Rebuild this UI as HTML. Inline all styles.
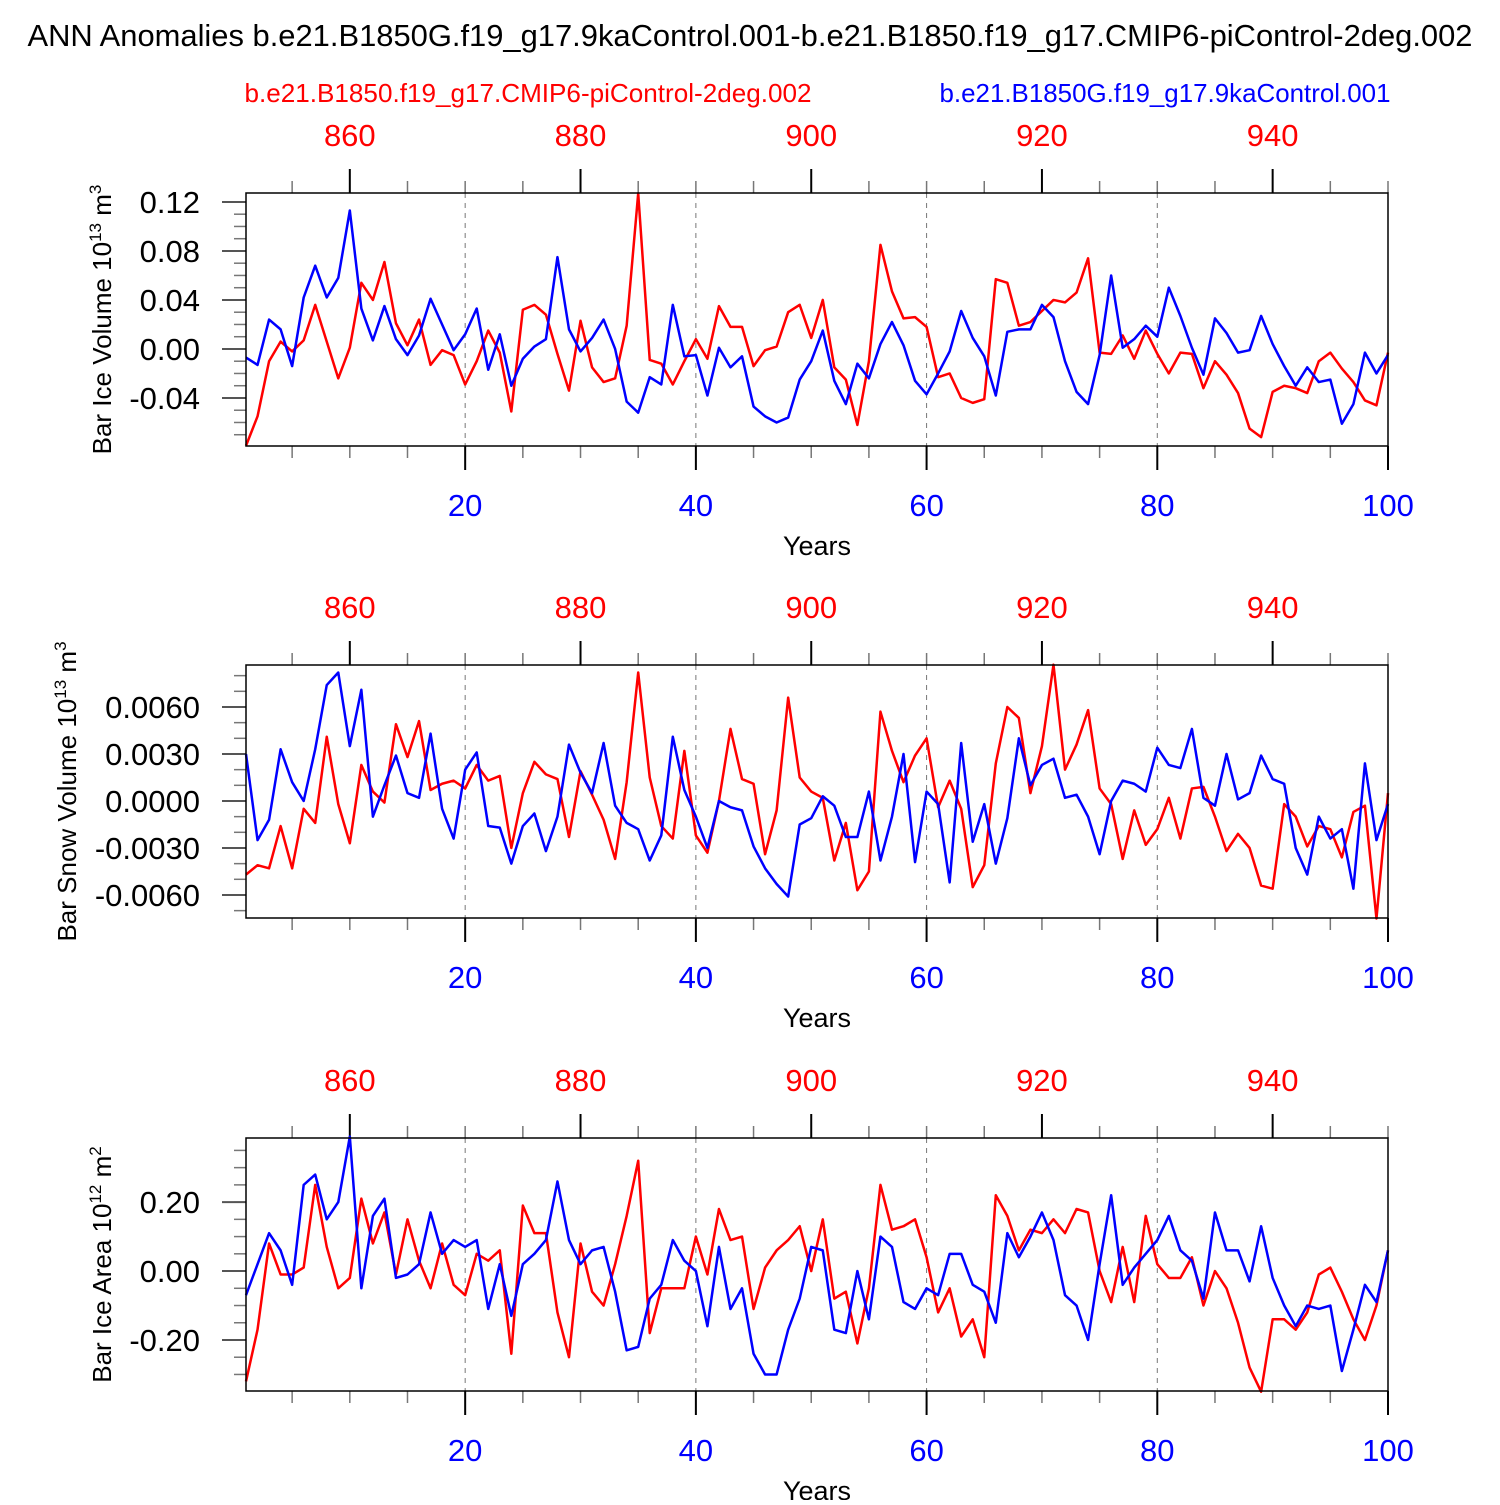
<!DOCTYPE html>
<html><head><meta charset="utf-8"><style>
body{margin:0;background:#fff}
svg text{font-family:"Liberation Sans",Arial,sans-serif}
</style></head><body>
<svg id="chart" xmlns="http://www.w3.org/2000/svg" width="1500" height="1500" viewBox="0 0 1500 1500">
<text x="750" y="46" text-anchor="middle" font-size="31" textLength="1445" lengthAdjust="spacingAndGlyphs">ANN Anomalies b.e21.B1850G.f19_g17.9kaControl.001-b.e21.B1850.f19_g17.CMIP6-piControl-2deg.002</text>
<text x="528" y="102" text-anchor="middle" font-size="26" fill="#f00" textLength="567" lengthAdjust="spacingAndGlyphs">b.e21.B1850.f19_g17.CMIP6-piControl-2deg.002</text>
<text x="1165" y="102" text-anchor="middle" font-size="26" fill="#00f" textLength="451" lengthAdjust="spacingAndGlyphs">b.e21.B1850G.f19_g17.9kaControl.001</text>
</svg>
<script>
const years=Array.from({length:100},(_,i)=>i+1);
const iceVolBlue=[-0.007,-0.013,0.024,0.016,-0.014,0.042,0.068,0.042,0.058,0.113,0.033,0.007,0.035,0.008,-0.005,0.011,0.041,0.020,-0.001,0.012,0.033,-0.017,0.012,-0.030,-0.008,0.002,0.008,0.075,0.016,-0.002,0.009,0.024,0.000,-0.043,-0.052,-0.023,-0.029,0.036,-0.006,-0.005,-0.038,0.001,-0.015,-0.006,-0.047,-0.055,-0.060,-0.056,-0.025,-0.010,0.015,-0.026,-0.045,-0.012,-0.024,0.004,0.022,0.003,-0.026,-0.037,-0.020,-0.002,0.031,0.009,-0.006,-0.038,0.014,0.016,0.016,0.036,0.026,-0.010,-0.035,-0.045,-0.005,0.060,0.001,0.008,0.019,0.010,0.050,0.027,0.001,-0.021,0.025,0.013,-0.003,-0.001,0.027,0.004,-0.014,-0.030,-0.015,-0.027,-0.025,-0.061,-0.045,-0.003,-0.020,-0.005];
const iceVolRed=[-0.079,-0.055,-0.010,0.006,-0.002,0.007,0.036,0.006,-0.024,0.001,0.054,0.040,0.071,0.021,0.003,0.024,-0.013,-0.001,-0.005,-0.029,-0.010,0.015,-0.003,-0.051,0.032,0.036,0.028,-0.004,-0.034,0.023,-0.015,-0.027,-0.024,0.019,0.127,-0.009,-0.012,-0.029,-0.010,0.008,-0.008,0.035,0.018,0.018,-0.014,-0.001,0.002,0.030,0.036,0.009,0.040,-0.015,-0.025,-0.062,-0.010,0.085,0.047,0.025,0.026,0.018,-0.023,-0.020,-0.040,-0.044,-0.041,0.057,0.054,0.019,0.022,0.031,0.040,0.038,0.046,0.074,-0.003,-0.004,0.011,-0.008,0.015,-0.004,-0.020,-0.003,-0.004,-0.032,-0.010,-0.021,-0.036,-0.065,-0.072,-0.035,-0.030,-0.032,-0.036,-0.010,-0.003,-0.016,-0.027,-0.042,-0.046,-0.003];
const snowBlue=[0.0030,-0.0025,-0.0012,0.0033,0.0012,0.0000,0.0033,0.0074,0.0082,0.0035,0.0071,-0.0010,0.0010,0.0029,0.0005,0.0002,0.0043,-0.0005,-0.0024,0.0020,0.0031,-0.0016,-0.0017,-0.0040,-0.0016,-0.0008,-0.0032,-0.0010,0.0036,0.0018,0.0005,0.0037,-0.0003,-0.0014,-0.0018,-0.0038,-0.0022,0.0041,0.0007,-0.0010,-0.0030,0.0000,-0.0004,-0.0006,-0.0029,-0.0043,-0.0053,-0.0061,-0.0015,-0.0011,0.0003,-0.0003,-0.0023,-0.0023,0.0006,-0.0038,-0.0010,0.0030,-0.0039,0.0006,-0.0002,-0.0052,0.0037,-0.0026,-0.0002,-0.0040,-0.0011,0.0040,0.0010,0.0023,0.0027,0.0002,0.0004,-0.0010,-0.0034,0.0000,0.0013,0.0011,0.0006,0.0034,0.0023,0.0021,0.0046,0.0002,-0.0003,0.0030,0.0001,0.0005,0.0029,0.0014,0.0011,-0.0030,-0.0047,-0.0010,-0.0024,-0.0018,-0.0056,0.0024,-0.0025,-0.0002];
const snowRed=[-0.0047,-0.0041,-0.0043,-0.0016,-0.0043,-0.0005,-0.0014,0.0041,-0.0002,-0.0027,0.0023,0.0006,-0.0001,0.0049,0.0028,0.0051,0.0007,0.0011,0.0013,0.0008,0.0023,0.0013,0.0016,-0.0030,0.0005,0.0025,0.0017,0.0014,-0.0023,0.0019,0.0004,-0.0012,-0.0037,0.0012,0.0082,0.0015,-0.0016,-0.0024,0.0032,-0.0022,-0.0033,0.0000,0.0046,0.0014,0.0011,-0.0034,-0.0006,0.0066,0.0015,0.0006,0.0002,-0.0038,-0.0014,-0.0057,-0.0045,0.0057,0.0032,0.0012,0.0029,0.0040,-0.0004,0.0013,-0.0005,-0.0055,-0.0041,0.0024,0.0060,0.0053,0.0005,0.0035,0.0087,0.0020,0.0036,0.0058,0.0008,-0.0002,-0.0037,-0.0006,-0.0028,-0.0018,0.0002,-0.0024,0.0008,0.0009,-0.0010,-0.0032,-0.0021,-0.0030,-0.0054,-0.0056,-0.0002,-0.0010,-0.0029,-0.0016,-0.0018,-0.0036,-0.0007,-0.0003,-0.0075,0.0005];
const areaBlue=[-0.07,0.02,0.11,0.06,-0.04,0.25,0.28,0.15,0.20,0.39,-0.05,0.16,0.21,-0.02,-0.01,0.02,0.17,0.05,0.09,0.07,0.09,-0.11,0.02,-0.13,0.02,0.05,0.09,0.26,0.09,0.02,0.06,0.07,-0.06,-0.23,-0.22,-0.08,-0.04,0.09,0.03,0.00,-0.16,0.07,-0.11,-0.05,-0.24,-0.30,-0.30,-0.17,-0.08,0.07,0.06,-0.17,-0.18,0.00,-0.14,0.10,0.07,-0.09,-0.11,-0.05,-0.07,0.05,0.05,-0.04,-0.06,-0.15,0.11,0.04,0.10,0.17,0.09,-0.07,-0.10,-0.20,0.02,0.22,-0.04,0.01,0.05,0.09,0.16,0.06,0.03,-0.08,0.17,0.06,0.06,-0.03,0.13,-0.02,-0.10,-0.16,-0.10,-0.11,-0.10,-0.29,-0.17,-0.04,-0.09,0.06];
const areaRed=[-0.32,-0.17,0.08,-0.01,-0.01,0.01,0.25,0.07,-0.05,-0.02,0.21,0.08,0.17,-0.01,0.15,0.03,-0.05,0.08,-0.04,-0.07,0.05,0.03,0.06,-0.24,0.19,0.11,0.11,-0.12,-0.25,0.08,-0.06,-0.10,0.02,0.16,0.32,-0.18,-0.05,-0.05,-0.05,0.10,-0.01,0.18,0.09,0.10,-0.11,0.01,0.06,0.09,0.13,0.00,0.15,-0.08,-0.06,-0.21,-0.05,0.25,0.12,0.13,0.15,0.04,-0.12,-0.05,-0.19,-0.14,-0.25,0.22,0.16,0.06,0.12,0.11,0.15,0.11,0.18,0.17,0.00,-0.09,0.07,-0.09,0.16,0.02,-0.02,-0.02,0.04,-0.10,0.00,-0.05,-0.15,-0.28,-0.35,-0.14,-0.14,-0.17,-0.12,-0.01,0.01,-0.06,-0.14,-0.20,-0.10,0.06];
const bottomTicks=[20,40,60,80,100];
const topTicks=[860,880,900,920,940];
const iceVolTicks=["0.12","0.08","0.04","0.00","-0.04"];
const snowTicks=["0.0060","0.0030","0.0000","-0.0030","-0.0060"];
const areaTicks=["0.20","0.00","-0.20"];

const NS="http://www.w3.org/2000/svg";
const svg=document.getElementById('chart');
function mk(tag,attrs,parent,text){const e=document.createElementNS(NS,tag);for(const k in attrs)e.setAttribute(k,attrs[k]);if(text!==undefined)e.textContent=text;(parent||svg).appendChild(e);return e;}
const X0=246,X1=1388;
function xs(yr){return X0+(yr-1)*(X1-X0)/99;}

function panel(o){
  const g=mk('g',{});
  
  
  const T=o.top,B=o.top+253;
  const ys=v=>B-(v-o.min)/(o.max-o.min)*(B-T);
  for(const t of [20,40,60,80]){
    const l=mk('line',{x1:xs(t),x2:xs(t),y1:T,y2:B,stroke:'#777','stroke-width':1,'stroke-dasharray':'5,5'},g);
    
    
  }
  for(let yr=5;yr<=100;yr+=5){
    const maj=yr%20===0;
    mk('line',{x1:xs(yr),x2:xs(yr),y1:B,y2:B+(maj?24:12),stroke:maj?'#000':'#777','stroke-width':maj?2:1.5},g);
  }
  for(let yr=5;yr<=100;yr+=5){
    const maj=(yr+850)%20===0;
    mk('line',{x1:xs(yr),x2:xs(yr),y1:T,y2:T-(maj?24:12),stroke:maj?'#000':'#777','stroke-width':maj?2:1.5},g);
  }
  for(const t of bottomTicks){
    const e=mk('text',{x:xs(t),y:B+70,'text-anchor':'middle','font-size':31,fill:'#00f'},g,String(t));
    
    
  }
  for(const t of topTicks){
    const e=mk('text',{x:xs(t-850),y:T-47,'text-anchor':'middle','font-size':31,fill:'#f00'},g,String(t));
    
    
  }
  const xt=mk('text',{x:817,y:B+109,'text-anchor':'middle','font-size':27},g,'Years');
  
  
  for(let v=Math.ceil(o.min/o.minor)*o.minor;v<=o.max+1e-12;v+=o.minor){
    mk('line',{x1:X0-12,x2:X0,y1:ys(v),y2:ys(v),stroke:'#777','stroke-width':1.5},g);
  }
  for(const s of o.ticks){
    const v=parseFloat(s),y=ys(v);
    mk('line',{x1:X0-24,x2:X0,y1:y,y2:y,stroke:'#555','stroke-width':2},g);
    const e=mk('text',{x:200,y:y+11,'text-anchor':'end','font-size':31},g,s);
    
    
  }
  const yt=mk('text',{transform:`translate(${o.titleX},${(T+B)/2}) rotate(-90)`,'text-anchor':'middle','font-size':26},g);
  
  
  mk('tspan',{},yt,o.title+' 10');
  mk('tspan',{dy:-10,'font-size':17},yt,o.exp);
  mk('tspan',{dy:10},yt,' m');
  mk('tspan',{dy:-10,'font-size':17},yt,o.unitExp);
  const red=mk('polyline',{points:o.red.map((v,i)=>xs(years[i])+','+ys(v)).join(' '),fill:'none',stroke:'#f00','stroke-width':2.5,'stroke-linejoin':'round'},g);
  
  
  const blue=mk('polyline',{points:o.blue.map((v,i)=>xs(years[i])+','+ys(v)).join(' '),fill:'none',stroke:'#00f','stroke-width':2.5,'stroke-linejoin':'round'},g);
  
  
  const fr=mk('rect',{x:X0,y:T,width:X1-X0,height:B-T,fill:'none',stroke:'#000','stroke-width':1.5},g);
  
  
}
panel({name:'ice-volume-panel',top:193,min:-0.0792,max:0.1273,minor:0.01,ticks:iceVolTicks,blue:iceVolBlue,red:iceVolRed,title:'Bar Ice Volume',exp:'13',unitExp:'3',titleX:111});
panel({name:'snow-volume-panel',top:665,min:-0.00747,max:0.00868,minor:0.001,ticks:snowTicks,blue:snowBlue,red:snowRed,title:'Bar Snow Volume',exp:'13',unitExp:'3',titleX:76});
panel({name:'ice-area-panel',top:1138,min:-0.348,max:0.386,minor:0.05,ticks:areaTicks,blue:areaBlue,red:areaRed,title:'Bar Ice Area',exp:'12',unitExp:'2',titleX:111});
</script>
</body></html>
